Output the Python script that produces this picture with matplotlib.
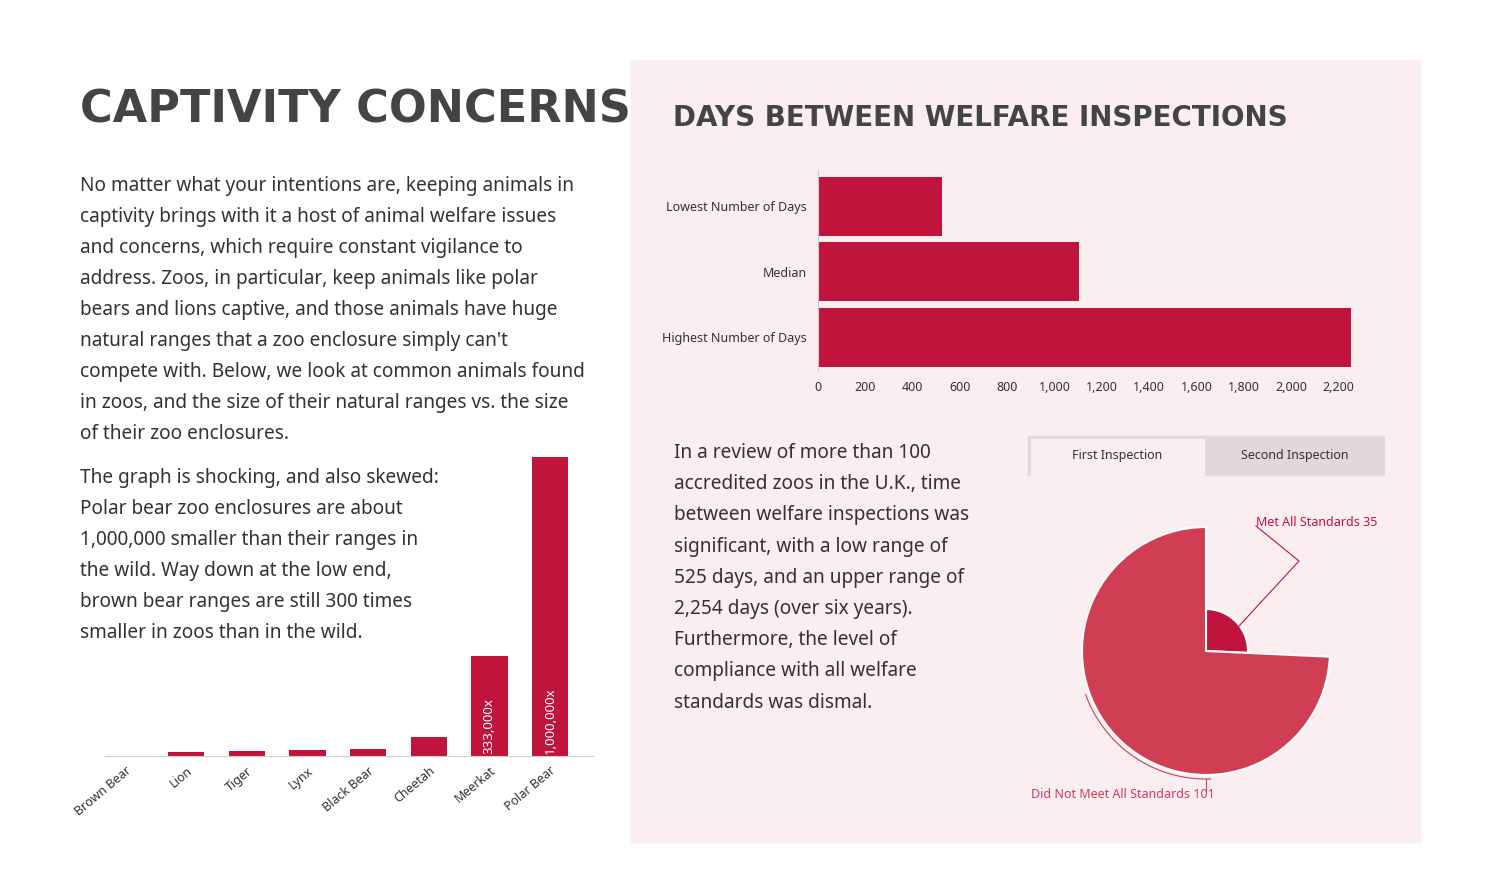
import matplotlib
matplotlib.use("Agg")
import matplotlib.pyplot as plt
from matplotlib.patches import Rectangle, Wedge
import numpy as np

W, H = 1500, 873
BAR_RED = "#c0143c"
PIE_RED = "#cf3e53"
PANEL = "#fbeef0"
DARK = "#444444"

animals = ["Brown Bear", "Lion", "Tiger", "Lynx", "Black Bear", "Cheetah", "Meerkat", "Polar Bear"]
ratio = [300, 15000, 17000, 20000, 23000, 63000, 333000, 1000000]
ratio_labels = {"Meerkat": "333,000x", "Polar Bear": "1,000,000x"}

inspect_cats = ["Lowest Number of Days", "Median", "Highest Number of Days"]
inspect_days = [525, 1105, 2254]
inspect_ticks = [0, 200, 400, 600, 800, 1000, 1200, 1400, 1600, 1800, 2000, 2200, 2400]

pie_labels = ["Met All Standards", "Did Not Meet All Standards"]
pie_values = [35, 101]

body = ["No matter what your intentions are, keeping animals in",
        "captivity brings with it a host of animal welfare issues",
        "and concerns, which require constant vigilance to",
        "address. Zoos, in particular, keep animals like polar",
        "bears and lions captive, and those animals have huge",
        "natural ranges that a zoo enclosure simply can't",
        "compete with. Below, we look at common animals found",
        "in zoos, and the size of their natural ranges vs. the size",
        "of their zoo enclosures."]
body2 = ["The graph is shocking, and also skewed:",
         "Polar bear zoo enclosures are about",
         "1,000,000 smaller than their ranges in",
         "the wild. Way down at the low end,",
         "brown bear ranges are still 300 times",
         "smaller in zoos than in the wild."]
body3 = ["In a review of more than 100",
         "accredited zoos in the U.K., time",
         "between welfare inspections was",
         "significant, with a low range of",
         "525 days, and an upper range of",
         "2,254 days (over six years).",
         "Furthermore, the level of",
         "compliance with all welfare",
         "standards was dismal."]

fig = plt.figure(figsize=(15, 8.73), dpi=100)
fig.patch.set_facecolor("white")


def fx(x):
    return x / W


def fy(y):
    return 1 - y / H


def px_axes(x0, y0, x1, y1):
    return fig.add_axes([fx(x0), fy(y1), (x1 - x0) / W, (y1 - y0) / H])


fig.patches.append(Rectangle((fx(631), fy(842)), 789 / W, 782 / H,
                             transform=fig.transFigure, color=PANEL, zorder=-3))

title_font = dict(family="DejaVu Sans", weight="bold", color=DARK)
fig.text(fx(80), fy(110), "CAPTIVITY CONCERNS", fontsize=32, va="center", **title_font)
fig.text(fx(673), fy(118), "DAYS BETWEEN WELFARE INSPECTIONS", fontsize=20, va="center", **title_font)

body_font = dict(family="Noto Sans", fontsize=13.7, color="#333333", va="center")
for i, line in enumerate(body):
    fig.text(fx(80), fy(186 + 31 * i), line, **body_font)
for i, line in enumerate(body2):
    fig.text(fx(80), fy(478 + 31 * i), line, **body_font)
for i, line in enumerate(body3):
    fig.text(fx(674), fy(453 + 31.2 * i), line, **body_font)

# animal range bar chart
ax = px_axes(105, 457, 593, 756)
x = np.arange(len(animals))
ax.bar(x, ratio, width=0.6, color=BAR_RED)
ax.set_ylim(0, max(ratio))
ax.set_xlim(-0.34, 7.71)
ax.set_yticks([])
ax.set_xticks(x)
ax.set_xticklabels(animals, rotation=40, ha="right", rotation_mode="anchor",
                   fontsize=9, color="#333333", family="Noto Sans")
ax.tick_params(axis="x", length=0, pad=6)
for s in ["top", "right", "left"]:
    ax.spines[s].set_visible(False)
ax.spines["bottom"].set_color("#cccccc")
ax.patch.set_alpha(0)
for i, name in enumerate(animals):
    if name in ratio_labels:
        ax.text(i, 6000, ratio_labels[name], rotation=90, ha="center",
                va="bottom", color="white", fontsize=9.5, family="Noto Sans")

# inspection days bar chart
ax2 = px_axes(818, 170, 1365, 370)
y = np.arange(len(inspect_cats))
ax2.barh(y, inspect_days, height=0.9, color=BAR_RED)
ax2.set_xlim(0, 2313)
ax2.set_ylim(2.5, -0.55)
ax2.set_yticks(y)
ax2.set_yticklabels(inspect_cats, fontsize=9, color="#333333", family="Noto Sans")
ax2.set_xticks(inspect_ticks[:-1])
ax2.set_xticklabels([f"{t:,}" for t in inspect_ticks[:-1]], fontsize=9, color="#333333",
                    family="Noto Sans")
ax2.tick_params(length=0, pad=8)
for s in ["top", "right", "bottom"]:
    ax2.spines[s].set_visible(False)
ax2.spines["left"].set_color("#cccccc")
ax2.patch.set_alpha(0)

# tabs
fig.patches.append(Rectangle((fx(1028), fy(475)), 356 / W, 39 / H, transform=fig.transFigure,
                             color="#e2d8da", zorder=-2))
fig.patches.append(Rectangle((fx(1031), fy(475)), 173 / W, 36 / H, transform=fig.transFigure,
                             color=PANEL, zorder=-1))
fig.text(fx(1117), fy(456), "First Inspection", ha="center", va="center", fontsize=9,
         color="#333333", family="Noto Sans")
fig.text(fx(1295), fy(456), "Second Inspection", ha="center", va="center", fontsize=9,
         color="#333333", family="Noto Sans")

# pie with varying radii
ax3 = px_axes(1056, 501, 1356, 801)
ax3.set_xlim(-150, 150)
ax3.set_ylim(-150, 150)
ax3.axis("off")
total = sum(pie_values)
start = 90
met_angle = pie_values[0] / total * 360
ax3.add_patch(Wedge((0, 0), 42, start - met_angle, start, facecolor=BAR_RED,
                    edgecolor="white", lw=1.5))
ax3.add_patch(Wedge((0, 0), 124, start, start - met_angle + 360, facecolor=PIE_RED,
                    edgecolor="white", lw=1.5))
# leader lines
ax3.plot([33, 93, 50], [25, 90, 125], color=BAR_RED, lw=0.8)
fig.text(fx(1256), fy(522), f"{pie_labels[0]} {pie_values[0]}", fontsize=9, color=BAR_RED,
         family="Noto Sans", va="center")
ang = np.radians(np.linspace(200, 272, 40))
ax3.plot(128 * np.cos(ang), 128 * np.sin(ang), color=PIE_RED, lw=0.8)
ax3.plot([0, 0], [-128, -140], color=PIE_RED, lw=0.8)
fig.text(fx(1031), fy(794), f"{pie_labels[1]} {pie_values[1]}", fontsize=9, color=PIE_RED,
         family="Noto Sans", va="center")

fig.savefig("out.png", dpi=100, facecolor="white")
